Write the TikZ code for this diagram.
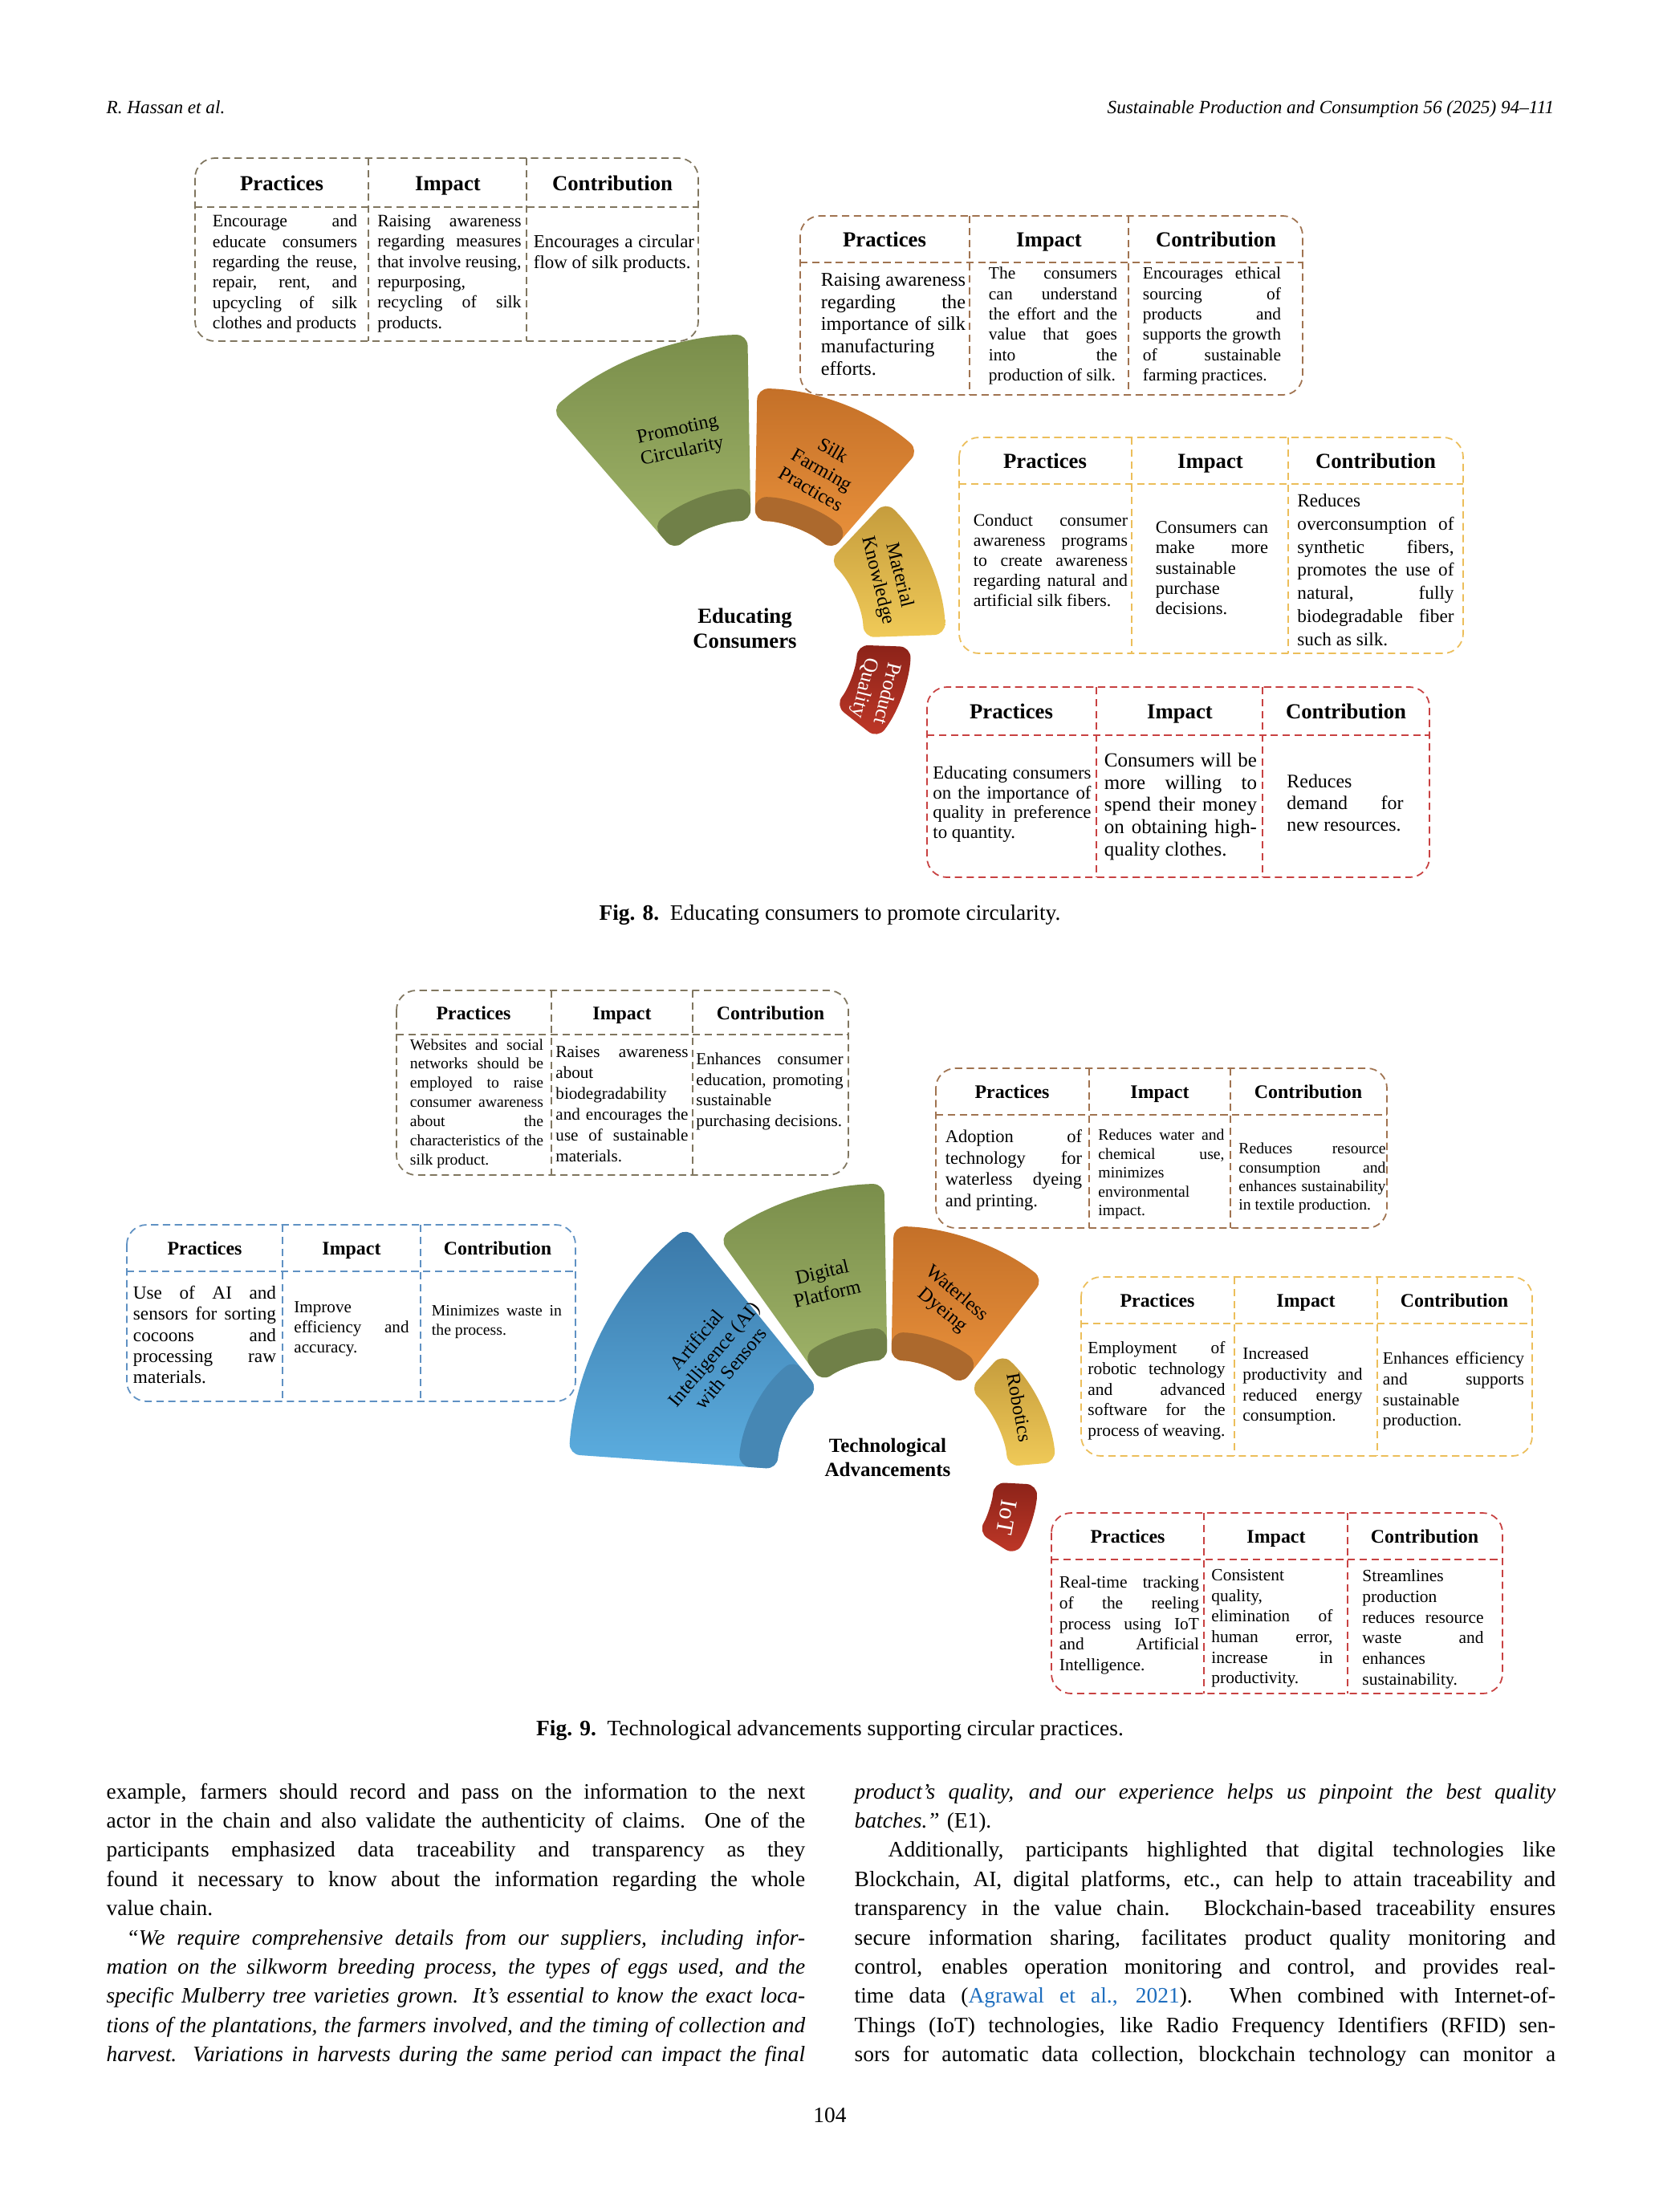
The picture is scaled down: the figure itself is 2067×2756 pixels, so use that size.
\documentclass[tikz,border=0pt]{standalone}
\usepackage{fontspec}
\setmainfont{Liberation Serif}
\definecolor{olivebrd}{RGB}{128,118,95}
\definecolor{brownbrd}{RGB}{160,115,80}
\definecolor{goldbrd}{RGB}{236,190,90}
\definecolor{redbrd}{RGB}{200,65,65}
\definecolor{bluebrd}{RGB}{95,145,195}
\definecolor{grtop}{RGB}{122,142,75}
\definecolor{grbot}{RGB}{160,180,105}
\definecolor{grband}{RGB}{112,128,72}
\definecolor{ortop}{RGB}{196,112,40}
\definecolor{orbot}{RGB}{234,146,60}
\definecolor{orband}{RGB}{172,105,45}
\definecolor{yetop}{RGB}{196,155,60}
\definecolor{yebot}{RGB}{240,202,88}
\definecolor{retop}{RGB}{140,35,25}
\definecolor{rebot}{RGB}{192,56,40}
\definecolor{bltop}{RGB}{58,120,168}
\definecolor{blbot}{RGB}{92,174,224}
\definecolor{blband}{RGB}{70,135,180}
\definecolor{citeblue}{RGB}{30,110,190}
\newcommand\jline[1]{\hbox to\hsize{#1}}
\newcommand\eline[1]{\hbox to\hsize{#1\hfil}}
\newcommand\cellbox[2]{\vbox{\hsize=#1cm\relax#2}}
\newcommand\fanpart[5][]{\path[#1] (#2:#4) arc[start angle=#2, end angle=#3, radius=#4]
  -- (#3:#5) arc[start angle=#3, end angle=#2, radius=#5] -- cycle;}
\newcommand\tblframe[8]{%
  \draw[dashbox, draw=#1, rounded corners=7pt] (#2,#3) rectangle (#4,#5);
  \draw[dashbox, draw=#1] (#2,#6) -- (#4,#6) (#7,#3) -- (#7,#5) (#8,#3) -- (#8,#5);}
\hbadness=10000
\hfuzz=6pt
\tikzset{
  dashbox/.style={line width=0.5pt, dash pattern=on 2.6pt off 1.6pt},
  hdr/.style={anchor=base, inner sep=0pt, font=\fontsize{7.6}{9}\selectfont\bfseries},
  hdrs/.style={anchor=base, inner sep=0pt, font=\fontsize{6.8}{8}\selectfont\bfseries},
  cf/.style 2 args={inner sep=0pt, font=\fontsize{#1}{#2}\selectfont},
  seg/.style={rounded corners=4pt},
  lbl/.style={align=center, inner sep=0pt, font=\fontsize{6.9}{7.9}\selectfont},
  hub/.style={align=center, inner sep=0pt, font=\fontsize{7.6}{9}\selectfont\bfseries},
  runhead/.style={inner sep=0pt, font=\fontsize{6.6}{8}\selectfont\itshape},
  captxt/.style={inner sep=0pt, font=\fontsize{7.8}{9.5}\selectfont},
  bodytxt/.style={inner sep=0pt, font=\fontsize{7.8}{10.35}\selectfont}
}
\begin{document}
\begin{tikzpicture}[x=0.01cm, y=-0.01cm]
  \fill[white] (0,0) rectangle (2067,2756);
  \useasboundingbox (0,0) rectangle (2067,2756);

  \node[runhead, anchor=base west] (rh1) at (132,141) {R. Hassan et al.};
  \node[runhead, anchor=base east] (rh2) at (1937,141) {Sustainable Production and Consumption 56 (2025) 94--111};

  \begin{scope}[shift={(938,799)}, x=1cm, y=1cm]
    \fanpart[seg, top color=grtop, bottom color=grbot]{91}{131}{1.50}{3.82}
    \fanpart[seg, fill=grband]{91}{131}{1.50}{1.90}
    \fanpart[seg, top color=ortop, bottom color=orbot]{49}{89}{1.50}{3.15}
    \fanpart[seg, fill=orband]{49}{89}{1.50}{1.80}
    \fanpart[seg, top color=yetop, bottom color=yebot]{2}{46.5}{1.38}{2.40}
    \fanpart[seg, top color=retop, bottom color=rebot]{-38}{-2}{1.30}{1.97}
    \node[lbl, rotate=12] (pc) at (110:2.65) {Promoting\\Circularity};
    \node[lbl, rotate=-30] (sf) at (68:2.31) {Silk\\Farming\\Practices};
    \node[lbl, rotate=-76] (mk) at (25:1.86) {Material\\Knowledge};
    \node[lbl, rotate=-104, text=white, font=\fontsize{7.2}{8.2}\selectfont] (pq) at (-22:1.64) {Product\\Quality};
  \end{scope}
  \node[hub] (edu) at (928,783) {Educating\\Consumers};

  \tblframe{olivebrd}{243}{197}{870}{425}{258}{459}{656}
  \node[hdr] (ah1) at (351,237) {Practices};
  \node[hdr] (ah2) at (558,237) {Impact};
  \node[hdr] (ah3) at (763,237) {Contribution};
  \node[cf={6.2}{7.2}] (a1) at (355,341) {\cellbox{1.80}{\jline{Encourage and}\jline{educate consumers}\jline{regarding the reuse,}\jline{repair, rent, and}\jline{upcycling of silk}\eline{clothes and products}}};
  \node[cf={6.2}{7.2}] (a2) at (560,341) {\cellbox{1.79}{\jline{Raising awareness}\jline{regarding measures}\jline{that involve reusing,}\eline{repurposing,}\jline{recycling of silk}\eline{products.}}};
  \node[cf={6.5}{7.6}] (a3) at (765,316) {\cellbox{2.00}{\jline{Encourages a circular}\eline{flow of silk products.}}};

  \tblframe{brownbrd}{997}{269}{1623}{492}{327}{1208}{1406}
  \node[hdr] (bh1) at (1102,307) {Practices};
  \node[hdr] (bh2) at (1307,307) {Impact};
  \node[hdr] (bh3) at (1515,307) {Contribution};
  \node[cf={6.9}{7.85}] (b1) at (1113,404) {\cellbox{1.80}{\jline{Raising awareness}\jline{regarding the}\jline{importance of silk}\eline{manufacturing}\eline{efforts.}}};
  \node[cf={6.1}{7.2}] (b2) at (1312,406) {\cellbox{1.60}{\jline{The consumers}\jline{can understand}\jline{the effort and the}\jline{value that goes}\jline{into the}\eline{production of silk.}}};
  \node[cf={6.1}{7.2}] (b3) at (1510,406) {\cellbox{1.72}{\jline{Encourages ethical}\jline{sourcing of}\jline{products and}\jline{supports the growth}\jline{of sustainable}\eline{farming practices.}}};

  \tblframe{goldbrd}{1195}{545}{1823}{814}{603}{1410}{1605}
  \node[hdr] (ch1) at (1302,583) {Practices};
  \node[hdr] (ch2) at (1508,583) {Impact};
  \node[hdr] (ch3) at (1714,583) {Contribution};
  \node[cf={6.2}{7.1}] (c1) at (1309,698) {\cellbox{1.92}{\jline{Conduct consumer}\jline{awareness programs}\jline{to create awareness}\jline{regarding natural and}\eline{artificial silk fibers.}}};
  \node[cf={6.4}{7.2}] (c2) at (1510,708) {\cellbox{1.40}{\jline{Consumers can}\jline{make more}\eline{sustainable}\eline{purchase}\eline{decisions.}}};
  \node[cf={6.6}{8.2}] (c3) at (1714,710) {\cellbox{1.95}{\eline{Reduces}\jline{overconsumption of}\jline{synthetic fibers,}\jline{promotes the use of}\jline{natural, fully}\jline{biodegradable fiber}\eline{such as silk.}}};

  \tblframe{redbrd}{1155}{856}{1781}{1093}{916}{1366}{1573}
  \node[hdr] (dh1) at (1260,895) {Practices};
  \node[hdr] (dh2) at (1470,895) {Impact};
  \node[hdr] (dh3) at (1677,895) {Contribution};
  \node[cf={6.5}{7.1}] (d1) at (1261,1002) {\cellbox{1.97}{\jline{Educating consumers}\jline{on the importance of}\jline{quality in preference}\eline{to quantity.}}};
  \node[cf={7.1}{7.85}] (d2) at (1471,1005) {\cellbox{1.90}{\jline{Consumers will be}\jline{more willing to}\jline{spend their money}\jline{on obtaining high-}\eline{quality clothes.}}};
  \node[cf={6.8}{7.7}] (d3) at (1676,1000) {\cellbox{1.45}{\eline{Reduces}\jline{demand for}\eline{new resources.}}};

  \node[captxt, anchor=base] (cap8) at (1034,1146) {\textbf{Fig. 8.}\ \ Educating consumers to promote circularity.};

  \begin{scope}[shift={(1108,1840)}, x=1cm, y=1cm]
    \fanpart[seg, top color=bltop, bottom color=blbot]{129}{176}{1.40}{4.00}
    \fanpart[seg, fill=blband]{129}{176}{1.40}{1.88}
    \fanpart[seg, top color=grtop, bottom color=grbot]{91}{125.5}{1.45}{3.65}
    \fanpart[seg, fill=grband]{91}{125.5}{1.45}{1.85}
    \fanpart[seg, top color=ortop, bottom color=orbot]{52}{89}{1.45}{3.12}
    \fanpart[seg, fill=orband]{52}{89}{1.45}{1.80}
    \fanpart[seg, top color=yetop, bottom color=yebot]{5}{47.5}{1.48}{2.08}
    \fanpart[seg, top color=retop, bottom color=rebot]{-32}{-3}{1.30}{1.85}
    \node[lbl, rotate=50] (ai) at (145:2.67) {Artificial\\Intelligence (AI)\\with Sensors};
    \node[lbl, rotate=13] (dp) at (108.4:2.55) {Digital\\Platform};
    \node[lbl, rotate=-40] (wd) at (71:2.30) {Waterless\\Dyeing};
    \node[lbl, rotate=-80] (rb) at (28:1.84) {Robotics};
    \node[lbl, rotate=-100, text=white, font=\fontsize{8.4}{9}\selectfont] (iot) at (-19:1.55) {IoT};
  \end{scope}
  \node[hub, font=\fontsize{7.1}{8.6}\selectfont\bfseries] (tech) at (1106,1816) {Technological\\Advancements};

  \tblframe{olivebrd}{494}{1234}{1057}{1464}{1289}{687}{863}
  \node[hdrs] (eh1) at (590,1270) {Practices};
  \node[hdrs] (eh2) at (775,1270) {Impact};
  \node[hdrs] (eh3) at (960,1270) {Contribution};
  \node[cf={5.6}{6.8}] (e1) at (594,1375) {\cellbox{1.66}{\jline{Websites and social}\jline{networks should be}\jline{employed to raise}\jline{consumer awareness}\jline{about the}\jline{characteristics of the}\eline{silk product.}}};
  \node[cf={6.0}{7.4}] (e2) at (775,1376) {\cellbox{1.65}{\jline{Raises awareness}\eline{about}\eline{biodegradability}\jline{and encourages the}\jline{use of sustainable}\eline{materials.}}};
  \node[cf={6.0}{7.3}] (e3) at (959,1360) {\cellbox{1.83}{\jline{Enhances consumer}\jline{education, promoting}\eline{sustainable}\eline{purchasing decisions.}}};

  \tblframe{brownbrd}{1166}{1331}{1728}{1530}{1389}{1357}{1533}
  \node[hdrs] (fh1) at (1261,1368) {Practices};
  \node[hdrs] (fh2) at (1445,1368) {Impact};
  \node[hdrs] (fh3) at (1630,1368) {Contribution};
  \node[cf={6.4}{7.5}] (f1) at (1263,1458) {\cellbox{1.70}{\jline{Adoption of}\jline{technology for}\jline{waterless dyeing}\eline{and printing.}}};
  \node[cf={5.6}{6.7}] (f2) at (1447,1463) {\cellbox{1.57}{\jline{Reduces water and}\jline{chemical use,}\eline{minimizes}\eline{environmental}\eline{impact.}}};
  \node[cf={5.6}{6.6}] (f3) at (1635,1468) {\cellbox{1.83}{\jline{Reduces resource}\jline{consumption and}\jline{enhances sustainability}\eline{in textile production.}}};

  \tblframe{bluebrd}{158}{1526}{717}{1746}{1584}{352}{524}
  \node[hdrs] (gh1) at (255,1563) {Practices};
  \node[hdrs] (gh2) at (438,1563) {Impact};
  \node[hdrs] (gh3) at (620,1563) {Contribution};
  \node[cf={6.6}{7.5}] (g1) at (255,1663) {\cellbox{1.78}{\jline{Use of AI and}\jline{sensors for sorting}\jline{cocoons and}\jline{processing raw}\eline{materials.}}};
  \node[cf={6.0}{7.2}] (g2) at (438,1656) {\cellbox{1.43}{\eline{Improve}\jline{efficiency and}\eline{accuracy.}}};
  \node[cf={5.6}{6.9}] (g3) at (619,1647) {\cellbox{1.62}{\jline{Minimizes waste in}\eline{the process.}}};

  \tblframe{goldbrd}{1347}{1591}{1909}{1814}{1649}{1538}{1716}
  \node[hdrs] (hh1) at (1442,1628) {Practices};
  \node[hdrs] (hh2) at (1627,1628) {Impact};
  \node[hdrs] (hh3) at (1812,1628) {Contribution};
  \node[cf={6.1}{7.3}] (h1) at (1441,1733) {\cellbox{1.71}{\jline{Employment of}\jline{robotic technology}\jline{and advanced}\jline{software for the}\eline{process of weaving.}}};
  \node[cf={6.1}{7.3}] (h2) at (1623,1727) {\cellbox{1.49}{\eline{Increased}\jline{productivity and}\jline{reduced energy}\eline{consumption.}}};
  \node[cf={6.1}{7.3}] (h3) at (1811,1733) {\cellbox{1.76}{\jline{Enhances efficiency}\jline{and supports}\eline{sustainable}\eline{production.}}};

  \tblframe{redbrd}{1310}{1885}{1872}{2110}{1943}{1500}{1679}
  \node[hdrs] (ih1) at (1405,1922) {Practices};
  \node[hdrs] (ih2) at (1590,1922) {Impact};
  \node[hdrs] (ih3) at (1775,1922) {Contribution};
  \node[cf={6.1}{7.3}] (i1) at (1407,2025) {\cellbox{1.74}{\jline{Real-time tracking}\jline{of the reeling}\jline{process using IoT}\jline{and Artificial}\eline{Intelligence.}}};
  \node[cf={6.1}{7.3}] (i2) at (1585,2029) {\cellbox{1.51}{\eline{Consistent}\eline{quality,}\jline{elimination of}\jline{human error,}\jline{increase in}\eline{productivity.}}};
  \node[cf={6.1}{7.3}] (i3) at (1773,2030) {\cellbox{1.51}{\eline{Streamlines}\eline{production}\jline{reduces resource}\jline{waste and}\eline{enhances}\eline{sustainability.}}};

  \node[captxt, anchor=base] (cap9) at (1034,2162) {\textbf{Fig. 9.}\ \ Technological advancements supporting circular practices.};

  \node[bodytxt, anchor=base west] (lcol) at (132,2241) {\vtop{\hsize=8.70cm
    \jline{example, farmers should record and pass on the information to the next}
    \jline{actor in the chain and also validate the authenticity of claims. One of the}
    \jline{participants emphasized data traceability and transparency as they}
    \jline{found it necessary to know about the information regarding the whole}
    \eline{value chain.}
    \jline{\hskip0.25cm\itshape “We require comprehensive details from our suppliers, including infor-}
    \jline{\itshape mation on the silkworm breeding process, the types of eggs used, and the}
    \jline{\itshape specific Mulberry tree varieties grown. It's essential to know the exact loca-}
    \jline{\itshape tions of the plantations, the farmers involved, and the timing of collection and}
    \jline{\itshape harvest. Variations in harvests during the same period can impact the final}}};
  \node[bodytxt, anchor=base west] (rcol) at (1064,2241) {\vtop{\hsize=8.73cm
    \jline{\itshape product's quality, and our experience helps us pinpoint the best quality}
    \eline{{\itshape batches.”} (E1).}
    \jline{\hskip0.42cm Additionally, participants highlighted that digital technologies like}
    \jline{Blockchain, AI, digital platforms, etc., can help to attain traceability and}
    \jline{transparency in the value chain. Blockchain-based traceability ensures}
    \jline{secure information sharing, facilitates product quality monitoring and}
    \jline{control, enables operation monitoring and control, and provides real-}
    \jline{time data (\textcolor{citeblue}{Agrawal et al., 2021}). When combined with Internet-of-}
    \jline{Things (IoT) technologies, like Radio Frequency Identifiers (RFID) sen-}
    \jline{sors for automatic data collection, blockchain technology can monitor a}}};

  \node[captxt, anchor=base] (pgno) at (1034,2644) {104};
\end{tikzpicture}
\end{document}
